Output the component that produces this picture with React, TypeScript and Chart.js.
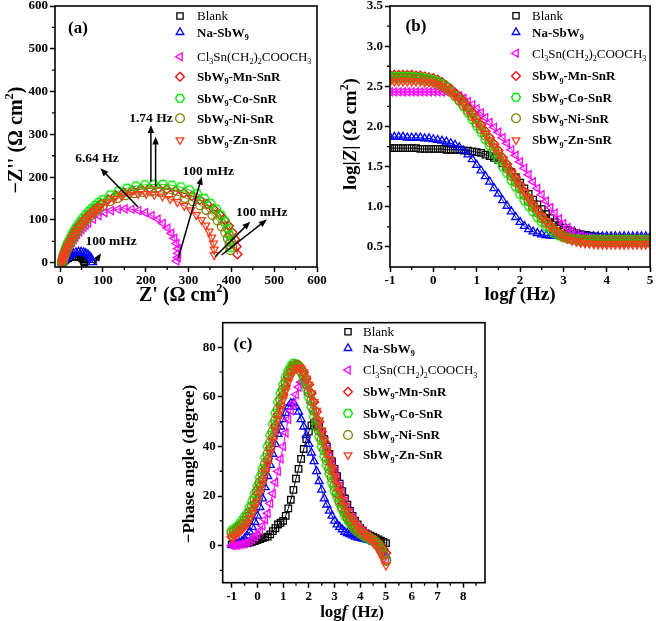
import React, { useEffect, useRef } from 'react';
import { Chart, registerables } from 'chart.js';
Chart.register(...registerables);

// ---------------- data ----------------
const SERIES = ['Blank', 'Na-SbW9', 'Cl3Sn(CH2)2COOCH3', 'SbW9-Mn-SnR', 'SbW9-Co-SnR', 'SbW9-Ni-SnR', 'SbW9-Zn-SnR'];
const COLORS = ['#000000', '#0000ff', '#ff00ff', '#ff0000', '#00e600', '#808000', '#f5401f'];
const POINT_STYLES = ['rect', 'triangle', 'triangle', 'rectRot', 'hex', 'circle', 'triangle'];
const ROTATIONS = [0, 0, -90, 0, 0, 0, 180];

// Panel (a) Nyquist: Z' and -Z''
const NY_BLANK_X = [57, 56, 54, 51, 47, 43, 38, 33, 28, 23, 19, 15, 12, 10, 8, 7, 6, 5];
const NY_BLANK_Y = [1, 4, 8, 11, 13, 14, 15, 15, 14, 13, 11, 9, 7, 5.5, 4, 2.5, 1.5, 0.5];
const NY_NA_X = [76, 75, 72, 69, 65, 60, 55, 49, 43, 37, 31, 26, 21, 17, 14, 11, 9, 7, 6, 5, 4];
const NY_NA_Y = [1, 6, 11, 15, 19, 22, 24, 25, 25, 24, 22, 19, 16, 13, 10, 8, 6, 4, 2.5, 1.5, 0.5];
const NY_CL_X = [272, 275, 276, 275, 272, 267, 260, 251, 240, 228, 214, 199, 183, 167, 151, 135, 119, 104, 90, 77, 66, 60, 55, 50, 45, 40, 36, 32, 28, 24, 21, 18, 15, 13, 11, 9, 8, 7, 6, 5];
const NY_CL_Y = [4, 12, 22, 33, 45, 57, 69, 81, 92, 102, 110, 117, 122, 125, 126, 125, 122, 117, 110, 102, 93, 88, 83, 78, 72, 66, 60, 54, 48, 42, 36, 31, 26, 21, 16, 12, 8, 5, 3, 1];
const NY_MN_X = [414, 412, 408, 402, 394, 384, 372, 358, 343, 326, 308, 289, 269, 249, 229, 209, 189, 169, 149, 130, 112, 95, 87, 79, 72, 65, 58, 52, 46, 41, 36, 32, 28, 24, 20, 17, 14, 12, 10, 8, 7, 6, 5, 5];
const NY_MN_Y = [20, 38, 55, 71, 86, 100, 113, 126, 137, 147, 156, 163, 168, 172, 174, 174, 172, 169, 164, 157, 148, 137, 131, 125, 118, 111, 104, 97, 90, 83, 76, 69, 62, 55, 48, 41, 34, 28, 22, 16, 11, 7, 3, 1];
const NY_CO_X = [398, 398, 396, 392, 385, 376, 365, 352, 337, 320, 302, 282, 261, 240, 219, 198, 177, 156, 136, 117, 99, 90, 82, 74, 67, 60, 53, 47, 41, 36, 31, 27, 23, 19, 16, 13, 11, 9, 8, 7, 6, 5, 5];
const NY_CO_Y = [36, 50, 65, 80, 96, 111, 125, 138, 150, 161, 170, 177, 181, 183, 183, 182, 179, 174, 167, 158, 147, 141, 134, 127, 120, 112, 104, 96, 88, 80, 72, 64, 56, 48, 41, 34, 27, 21, 16, 11, 7, 4, 1];
const NY_NI_X = [398, 396, 392, 386, 378, 368, 356, 342, 327, 310, 292, 273, 253, 233, 213, 193, 173, 153, 134, 116, 99, 91, 83, 76, 69, 62, 56, 50, 45, 40, 35, 31, 27, 23, 20, 17, 14, 12, 10, 8, 7, 6, 5];
const NY_NI_Y = [30, 43, 57, 71, 85, 99, 112, 124, 135, 144, 152, 158, 163, 166, 167, 166, 163, 158, 152, 144, 134, 128, 122, 116, 109, 102, 95, 88, 81, 74, 67, 60, 53, 46, 40, 34, 28, 22, 17, 12, 8, 4, 1];
const NY_ZN_X = [360, 360, 358, 354, 348, 340, 330, 318, 305, 290, 274, 257, 239, 220, 201, 182, 163, 144, 126, 109, 93, 85, 78, 71, 64, 58, 52, 46, 41, 36, 32, 28, 24, 21, 18, 15, 13, 11, 9, 8, 7, 6, 5];
const NY_ZN_Y = [18, 31, 45, 59, 73, 87, 100, 112, 123, 133, 142, 149, 155, 159, 161, 161, 159, 155, 149, 141, 131, 125, 119, 113, 106, 99, 92, 85, 78, 71, 64, 57, 50, 44, 38, 32, 26, 21, 16, 11, 7, 4, 1];

// Panels (b), (c): log f (10 points per decade)
const LOG_F = [
  -1, -0.9, -0.8, -0.7, -0.6, -0.5, -0.4, -0.3, -0.2, -0.1,
  0, 0.1, 0.2, 0.3, 0.4, 0.5, 0.6, 0.7, 0.8, 0.9,
  1, 1.1, 1.2, 1.3, 1.4, 1.5, 1.6, 1.7, 1.8, 1.9,
  2, 2.1, 2.2, 2.3, 2.4, 2.5, 2.6, 2.7, 2.8, 2.9,
  3, 3.1, 3.2, 3.3, 3.4, 3.5, 3.6, 3.7, 3.8, 3.9,
  4, 4.1, 4.2, 4.3, 4.4, 4.5, 4.6, 4.7, 4.8, 4.9,
  5,
];

const LOGZ_BLANK = [
  1.73, 1.73, 1.73, 1.73, 1.73, 1.73, 1.73, 1.72, 1.72, 1.72,
  1.72, 1.72, 1.72, 1.71, 1.71, 1.71, 1.71, 1.70, 1.70, 1.69,
  1.68, 1.67, 1.65, 1.63, 1.61, 1.58, 1.54, 1.49, 1.43, 1.37,
  1.30, 1.23, 1.16, 1.09, 1.03, 0.97, 0.91, 0.86, 0.81, 0.77,
  0.74, 0.71, 0.69, 0.67, 0.66, 0.65, 0.64, 0.63, 0.62, 0.62,
  0.61, 0.61, 0.61, 0.61, 0.61, 0.61, 0.61, 0.61, 0.61, 0.61,
  0.61,
];
const LOGZ_NA = [
  1.87, 1.87, 1.87, 1.87, 1.86, 1.86, 1.86, 1.86, 1.85, 1.85,
  1.84, 1.83, 1.82, 1.81, 1.79, 1.77, 1.74, 1.70, 1.65, 1.59,
  1.52, 1.45, 1.38, 1.31, 1.23, 1.16, 1.08, 1.01, 0.94, 0.87,
  0.81, 0.76, 0.72, 0.69, 0.67, 0.655, 0.645, 0.64, 0.635, 0.635,
  0.63, 0.63, 0.63, 0.63, 0.63, 0.63, 0.63, 0.63, 0.63, 0.63,
  0.63, 0.63, 0.63, 0.63, 0.63, 0.63, 0.63, 0.63, 0.63, 0.63,
  0.63,
];
const LOGZ_CL = [
  2.43, 2.43, 2.43, 2.43, 2.43, 2.43, 2.43, 2.43, 2.43, 2.43,
  2.43, 2.43, 2.43, 2.43, 2.42, 2.40, 2.38, 2.35, 2.31, 2.27,
  2.22, 2.17, 2.11, 2.05, 1.99, 1.93, 1.86, 1.79, 1.71, 1.64,
  1.56, 1.48, 1.40, 1.31, 1.23, 1.15, 1.07, 0.99, 0.92, 0.85,
  0.79, 0.74, 0.70, 0.67, 0.64, 0.62, 0.61, 0.605, 0.60, 0.60,
  0.60, 0.60, 0.60, 0.60, 0.60, 0.60, 0.60, 0.60, 0.60, 0.60,
  0.60,
];
const LOGZ_MN = [
  2.64, 2.64, 2.64, 2.64, 2.64, 2.64, 2.63, 2.63, 2.62, 2.61,
  2.60, 2.58, 2.55, 2.51, 2.47, 2.42, 2.37, 2.31, 2.24, 2.17,
  2.10, 2.02, 1.94, 1.86, 1.78, 1.70, 1.61, 1.53, 1.44, 1.36,
  1.27, 1.19, 1.11, 1.03, 0.96, 0.89, 0.83, 0.77, 0.72, 0.68,
  0.65, 0.62, 0.60, 0.59, 0.58, 0.575, 0.57, 0.565, 0.56, 0.56,
  0.56, 0.56, 0.56, 0.56, 0.56, 0.56, 0.56, 0.56, 0.56, 0.56,
  0.56,
];
const LOGZ_CO = [
  2.62, 2.62, 2.62, 2.62, 2.62, 2.62, 2.61, 2.61, 2.60, 2.59,
  2.58, 2.56, 2.53, 2.49, 2.44, 2.38, 2.32, 2.25, 2.17, 2.09,
  2.01, 1.93, 1.84, 1.76, 1.67, 1.59, 1.50, 1.42, 1.33, 1.25,
  1.16, 1.08, 1.01, 0.94, 0.87, 0.81, 0.76, 0.71, 0.67, 0.64,
  0.62, 0.61, 0.60, 0.595, 0.59, 0.59, 0.59, 0.59, 0.59, 0.59,
  0.59, 0.59, 0.59, 0.59, 0.59, 0.59, 0.59, 0.59, 0.59, 0.59,
  0.59,
];
const LOGZ_NI = [
  2.60, 2.60, 2.60, 2.60, 2.60, 2.60, 2.59, 2.59, 2.58, 2.57,
  2.56, 2.54, 2.51, 2.48, 2.44, 2.39, 2.33, 2.27, 2.20, 2.13,
  2.05, 1.97, 1.89, 1.81, 1.73, 1.65, 1.56, 1.48, 1.39, 1.31,
  1.23, 1.15, 1.07, 1.00, 0.93, 0.86, 0.80, 0.75, 0.70, 0.66,
  0.63, 0.61, 0.60, 0.595, 0.59, 0.585, 0.58, 0.58, 0.58, 0.58,
  0.58, 0.58, 0.58, 0.58, 0.58, 0.58, 0.58, 0.58, 0.58, 0.58,
  0.58,
];
const LOGZ_ZN = [
  2.56, 2.56, 2.56, 2.56, 2.56, 2.56, 2.56, 2.56, 2.55, 2.55,
  2.54, 2.52, 2.50, 2.47, 2.43, 2.38, 2.33, 2.27, 2.20, 2.13,
  2.06, 1.99, 1.91, 1.83, 1.75, 1.67, 1.59, 1.50, 1.42, 1.34,
  1.26, 1.18, 1.10, 1.02, 0.95, 0.88, 0.82, 0.76, 0.71, 0.67,
  0.63, 0.60, 0.58, 0.565, 0.55, 0.545, 0.54, 0.535, 0.53, 0.53,
  0.53, 0.53, 0.53, 0.53, 0.53, 0.53, 0.53, 0.53, 0.53, 0.53,
  0.53,
];

const PH_BLANK = [
  0.5, 0.5, 0.6, 0.7, 0.8, 0.9, 1.0, 1.2, 1.5, 1.8,
  2.2, 2.6, 3.0, 3.3, 3.6, 4.5, 5.8, 7, 8.5, 9.2,
  10, 12, 15, 18.5, 22.5, 27, 31, 35, 39, 43,
  46, 48.5, 49.5, 49, 48, 46, 43, 40, 37, 34,
  31, 28, 25, 22, 19, 16.5, 14, 12, 10, 8.5,
  7, 6, 5, 4.5, 4, 3.5, 3, 2.5, 2, 1.5,
  1,
];
const PH_NA = [
  0.3, 0.5, 0.8, 1.2, 1.8, 2.8, 4, 5.5, 7.5, 9.5,
  12, 15.5, 19, 23.5, 28, 32.5, 37, 41, 45, 48,
  51, 53.5, 56, 57.5, 57.5, 56, 54, 51, 48, 44.5,
  41, 37.5, 34, 30, 26, 22.5, 19, 16.5, 14, 12,
  10, 8.5, 7.5, 6.5, 5.5, 5, 4.5, 4, 3.5, 3.2,
  3, 2.7, 2.5, 2.2, 2, 1.5, 1, 0, -1, -2.5,
  -4,
];
const PH_CL = [
  0, 0.1, 0.2, 0.4, 0.6, 0.9, 1.2, 1.8, 2.5, 3.5,
  4.5, 6, 8, 10.5, 13, 17, 21, 25.5, 30, 35,
  40, 45.5, 51, 54.5, 57.5, 61, 64, 66, 66, 64,
  61, 57.5, 54, 51, 48, 45, 42, 39, 36, 33,
  30, 27, 24, 21, 18, 15.5, 13, 11, 9, 7.5,
  6.5, 5.5, 4.5, 3.7, 3, 2.3, 1.5, 0.5, -1.5, -3.5,
  -6,
];
const PH_MN = [
  3.6, 4.2, 5, 6, 7, 8, 9.5, 11.5, 14, 17,
  21, 24, 27, 31, 35, 39.5, 44, 48.5, 53, 57,
  61, 64.5, 68, 70.5, 72.5, 73, 73, 71.5, 70, 67.5,
  65, 61.5, 58, 54, 50, 46, 42, 38, 34, 30.5,
  27, 23.5, 20, 17, 14, 12, 10, 8.5, 7, 6,
  5, 4.5, 4, 3.5, 3, 2.5, 2, 1.2, 0, -1.5,
  -3,
];
const PH_CO = [
  6, 6.7, 7.5, 8.7, 10, 11.5, 13, 15.5, 18, 21,
  24, 27.5, 31, 35.5, 40, 44.5, 49, 53.5, 58, 61.5,
  65, 68, 70.5, 72.5, 73.5, 73, 72, 70, 67, 63.5,
  60, 56, 52, 48, 44, 40, 36, 32.5, 29, 25.5,
  22, 19.5, 17, 14.5, 12, 10.5, 9, 7.7, 6.5, 5.7,
  5, 4.2, 3.5, 3, 2.5, 1.8, 1, 0, -1.5, -3.5,
  -6,
];
const PH_NI = [
  5, 5.7, 6.5, 7.5, 8.5, 10, 11.5, 13.5, 16, 19,
  22, 25.5, 29, 33, 37, 41.5, 46, 50.5, 55, 59,
  63, 66, 69, 71, 72.5, 73, 72.5, 70.5, 68.5, 65.5,
  62, 58.5, 54.5, 50.5, 46.5, 42.5, 38.5, 34.5, 31, 27.5,
  24, 21, 18, 15.5, 13.5, 11.5, 10, 8.5, 7, 6,
  5, 4.5, 4, 3.5, 3, 2.3, 1.5, 0.3, -1.5, -3.5,
  -6,
];
const PH_ZN = [
  3, 3.7, 4.5, 5.5, 6.5, 7.7, 9, 11, 13, 15.5,
  18, 21.5, 25, 29, 33, 37.5, 42, 46.5, 51, 55,
  59, 62.5, 66, 68.5, 70.5, 71.5, 72, 71.5, 70, 67.5,
  65, 61.5, 58, 54.5, 50.5, 46.5, 42.5, 38.5, 35, 31.5,
  28, 24.5, 21.5, 18.5, 16, 14, 12, 10.5, 9, 7.7,
  6.5, 5.5, 4.5, 3.5, 2.5, 1.3, 0, -1.5, -3.5, -5.5,
  -8,
];

// Axis ticks
const A_X_TICKS = [0, 100, 200, 300, 400, 500, 600];
const A_Y_TICKS = [0, 100, 200, 300, 400, 500, 600];
const A_X_MINOR = [50, 150, 250, 350, 450, 550];
const A_Y_MINOR = [50, 150, 250, 350, 450, 550];
const B_X_TICKS = [-1, 0, 1, 2, 3, 4, 5];
const B_Y_TICKS = [0.5, 1.0, 1.5, 2.0, 2.5, 3.0, 3.5];
const B_X_MINOR = [-0.5, 0.5, 1.5, 2.5, 3.5, 4.5];
const B_Y_MINOR = [0.75, 1.25, 1.75, 2.25, 2.75, 3.25];
const C_X_TICKS = [-1, 0, 1, 2, 3, 4, 5, 6, 7, 8];
const C_Y_TICKS = [0, 20, 40, 60, 80];
const C_X_MINOR = [-0.5, 0.5, 1.5, 2.5, 3.5, 4.5, 5.5, 6.5, 7.5, 8.5];
const C_Y_MINOR = [-10, 10, 30, 50, 70];

// Annotations for panel (a) (data coordinates)
const A_NOTES = [
  { t: '6.64 Hz', x: 86, y: 247 },
  { t: '1.74 Hz', x: 212, y: 340 },
  { t: '100 mHz', x: 346, y: 215 },
  { t: '100 mHz', x: 471, y: 121 },
  { t: '100 mHz', x: 119, y: 53 },
];
const A_ARROWS = [
  [182, 130, 94, 221],
  [212, 189, 212, 322],
  [223, 178, 223, 295],
  [276, 11, 331, 201],
  [362, 14, 444, 96],
  [377, 18, 483, 101],
  [79, -3, 95.5, 22],
];

// ---------------- rendering helpers ----------------
const FONT = '"Liberation Serif", "Times New Roman", Times, serif';
type Seg = { t: string; s?: 'sub' | 'sup'; i?: boolean };

const LEGEND_LABELS: Seg[][] = [
  [{ t: 'Blank' }],
  [{ t: 'Na-SbW' }, { t: '9', s: 'sub' }],
  [{ t: 'Cl' }, { t: '3', s: 'sub' }, { t: 'Sn(CH' }, { t: '2', s: 'sub' }, { t: ')' }, { t: '2', s: 'sub' }, { t: 'COOCH' }, { t: '3', s: 'sub' }],
  [{ t: 'SbW' }, { t: '9', s: 'sub' }, { t: '-Mn-SnR' }],
  [{ t: 'SbW' }, { t: '9', s: 'sub' }, { t: '-Co-SnR' }],
  [{ t: 'SbW' }, { t: '9', s: 'sub' }, { t: '-Ni-SnR' }],
  [{ t: 'SbW' }, { t: '9', s: 'sub' }, { t: '-Zn-SnR' }],
];
const LEGEND_BOLD = [false, true, false, true, true, true, true];

function segFont(sg: Seg, size: number, bold: boolean) {
  const sz = sg.s ? size * 0.62 : size;
  return `${sg.i ? 'italic ' : ''}${bold ? 'bold ' : ''}${sz}px ${FONT}`;
}

function drawRich(ctx: CanvasRenderingContext2D, segs: Seg[], x: number, y: number, size: number, bold: boolean, align: 'left' | 'center', angle = 0) {
  ctx.save();
  ctx.translate(x, y);
  if (angle) ctx.rotate(angle);
  ctx.fillStyle = '#000';
  ctx.textBaseline = 'alphabetic';
  ctx.textAlign = 'left';
  let w = 0;
  for (const sg of segs) { ctx.font = segFont(sg, size, bold); w += ctx.measureText(sg.t).width; }
  let cx = align === 'center' ? -w / 2 : 0;
  const base = size * 0.34;
  for (const sg of segs) {
    ctx.font = segFont(sg, size, bold);
    const dy = sg.s === 'sub' ? size * 0.24 : sg.s === 'sup' ? -size * 0.42 : 0;
    ctx.fillText(sg.t, cx, base + dy);
    cx += ctx.measureText(sg.t).width;
  }
  ctx.restore();
}

function markerPath(ctx: CanvasRenderingContext2D, style: string, r: number) {
  ctx.beginPath();
  if (style === 'rect') {
    const h = r * Math.SQRT1_2;
    ctx.rect(-h, -h, 2 * h, 2 * h);
  } else if (style === 'rectRot') {
    ctx.moveTo(0, -r); ctx.lineTo(r, 0); ctx.lineTo(0, r); ctx.lineTo(-r, 0); ctx.closePath();
  } else if (style === 'triangle') {
    for (let k = 0; k < 3; k++) {
      const a = (k * 2 * Math.PI) / 3;
      const px = Math.sin(a) * r; const py = -Math.cos(a) * r;
      if (k === 0) ctx.moveTo(px, py); else ctx.lineTo(px, py);
    }
    ctx.closePath();
  } else if (style === 'hex') {
    for (let k = 0; k < 6; k++) {
      const a = (k * Math.PI) / 3;
      const px = Math.cos(a) * r; const py = Math.sin(a) * r;
      if (k === 0) ctx.moveTo(px, py); else ctx.lineTo(px, py);
    }
    ctx.closePath();
  } else {
    ctx.arc(0, 0, r, 0, Math.PI * 2);
  }
}

function drawMarker(ctx: CanvasRenderingContext2D, i: number, x: number, y: number, r: number) {
  ctx.save();
  ctx.translate(x, y);
  ctx.rotate((ROTATIONS[i] * Math.PI) / 180);
  ctx.strokeStyle = COLORS[i];
  ctx.lineWidth = 1.3;
  markerPath(ctx, POINT_STYLES[i], r);
  ctx.stroke();
  ctx.restore();
}

function hexImage(color: string, r: number) {
  const c = document.createElement('canvas');
  const s = Math.ceil(r * 2 + 3);
  c.width = s; c.height = s;
  const ctx = c.getContext('2d') as CanvasRenderingContext2D;
  ctx.translate(s / 2, s / 2);
  ctx.strokeStyle = color;
  ctx.lineWidth = 1.3;
  markerPath(ctx, 'hex', r);
  ctx.stroke();
  return c;
}

function drawArrow(ctx: CanvasRenderingContext2D, x1: number, y1: number, x2: number, y2: number) {
  const ang = Math.atan2(y2 - y1, x2 - x1);
  const head = 8, hw = 3.2;
  ctx.beginPath();
  ctx.moveTo(x1, y1);
  ctx.lineTo(x2 - Math.cos(ang) * head * 0.7, y2 - Math.sin(ang) * head * 0.7);
  ctx.stroke();
  ctx.beginPath();
  ctx.moveTo(x2, y2);
  ctx.lineTo(x2 - head * Math.cos(ang) + hw * Math.sin(ang), y2 - head * Math.sin(ang) - hw * Math.cos(ang));
  ctx.lineTo(x2 - head * Math.cos(ang) - hw * Math.sin(ang), y2 - head * Math.sin(ang) + hw * Math.cos(ang));
  ctx.closePath();
  ctx.fill();
}

interface Deco {
  xMinor: number[]; yMinor: number[];
  legend: { mx: number; tx: number; rows: number[]; size: number };
  panel: { t: string; x: number; y: number; size: number };
  xTitle: { segs: Seg[]; x: number; y: number; size: number };
  yTitle: { segs: Seg[]; x: number; y: number; size: number };
  notes?: { t: string; x: number; y: number }[];
  arrows?: number[][];
}

function decoPlugin(d: Deco) {
  return {
    id: 'deco',
    afterDraw(chart: any) {
      const ctx: CanvasRenderingContext2D = chart.ctx;
      const a = chart.chartArea;
      const xs = chart.scales.x;
      const ys = chart.scales.y;
      ctx.save();
      ctx.strokeStyle = '#000';
      ctx.fillStyle = '#000';
      ctx.lineWidth = 1.6;
      ctx.strokeRect(a.left, a.top, a.right - a.left, a.bottom - a.top);
      ctx.lineWidth = 1.3;
      ctx.beginPath();
      for (const v of d.xMinor) { const px = xs.getPixelForValue(v); ctx.moveTo(px, a.bottom); ctx.lineTo(px, a.bottom + 3); }
      for (const v of d.yMinor) { const py = ys.getPixelForValue(v); ctx.moveTo(a.left, py); ctx.lineTo(a.left - 3, py); }
      ctx.stroke();
      d.legend.rows.forEach((ry, i) => {
        drawMarker(ctx, i, d.legend.mx, ry, 4.4);
        drawRich(ctx, LEGEND_LABELS[i], d.legend.tx, ry, d.legend.size, LEGEND_BOLD[i], 'left');
      });
      drawRich(ctx, [{ t: d.panel.t }], d.panel.x, d.panel.y, d.panel.size, true, 'center');
      drawRich(ctx, d.xTitle.segs, d.xTitle.x, d.xTitle.y, d.xTitle.size, true, 'center');
      drawRich(ctx, d.yTitle.segs, d.yTitle.x, d.yTitle.y, d.yTitle.size, true, 'center', -Math.PI / 2);
      if (d.arrows) {
        ctx.lineWidth = 1.5;
        for (const ar of d.arrows) {
          drawArrow(ctx, xs.getPixelForValue(ar[0]), ys.getPixelForValue(ar[1]), xs.getPixelForValue(ar[2]), ys.getPixelForValue(ar[3]));
        }
      }
      if (d.notes) {
        for (const n of d.notes) {
          drawRich(ctx, [{ t: n.t }], xs.getPixelForValue(n.x), ys.getPixelForValue(n.y), 13.5, true, 'center');
        }
      }
      ctx.restore();
    },
  };
}

function axis(min: number, max: number, ticks: number[], isX: boolean, size: number, fmt: (v: number) => string) {
  return {
    type: 'linear',
    bounds: 'data',
    min, max,
    afterBuildTicks: (s: any) => { s.ticks = ticks.map((v) => ({ value: v })); },
    afterFit: (s: any) => {
      if (isX) s.height = size; else s.width = size;
      s.paddingTop = 0; s.paddingBottom = 0; s.paddingLeft = 0; s.paddingRight = 0;
    },
    ticks: {
      color: '#000',
      font: { family: FONT, size: 13, weight: 'bold' },
      padding: isX ? 1 : 2,
      autoSkip: false,
      maxRotation: 0,
      callback: (v: any) => fmt(Number(v)),
    },
    grid: { display: true, drawOnChartArea: false, drawTicks: true, tickLength: 5, tickWidth: 1.5, tickColor: '#000', color: '#000' },
    border: { display: false },
  };
}

function datasetStyle(i: number, hex: HTMLCanvasElement) {
  return {
    label: SERIES[i],
    showLine: true,
    borderColor: COLORS[i],
    borderWidth: 1,
    backgroundColor: 'rgba(0,0,0,0)',
    pointStyle: POINT_STYLES[i] === 'hex' ? hex : POINT_STYLES[i],
    pointRotation: ROTATIONS[i],
    pointRadius: 4.6,
    pointBorderWidth: 1.3,
    pointBorderColor: COLORS[i],
    pointBackgroundColor: 'rgba(0,0,0,0)',
    tension: 0,
    order: SERIES.length - i,
  };
}

function baseOptions(padding: any, xAxis: any, yAxis: any) {
  return {
    responsive: false,
    animation: false,
    events: [],
    devicePixelRatio: 1,
    layout: { padding },
    plugins: { legend: { display: false }, tooltip: { enabled: false } },
    scales: { x: xAxis, y: yAxis },
  };
}

const LOGF_TITLE: Seg[] = [{ t: 'log' }, { t: 'f', i: true }, { t: ' (Hz)' }];

export default function App() {
  const refA = useRef<HTMLCanvasElement>(null);
  const refB = useRef<HTMLCanvasElement>(null);
  const refC = useRef<HTMLCanvasElement>(null);

  useEffect(() => {
    const hex = hexImage(COLORS[4], 4.6);
    const NY_X = [NY_BLANK_X, NY_NA_X, NY_CL_X, NY_MN_X, NY_CO_X, NY_NI_X, NY_ZN_X];
    const NY_Y = [NY_BLANK_Y, NY_NA_Y, NY_CL_Y, NY_MN_Y, NY_CO_Y, NY_NI_Y, NY_ZN_Y];
    const LOGZ = [LOGZ_BLANK, LOGZ_NA, LOGZ_CL, LOGZ_MN, LOGZ_CO, LOGZ_NI, LOGZ_ZN];
    const PH = [PH_BLANK, PH_NA, PH_CL, PH_MN, PH_CO, PH_NI, PH_ZN];
    const intFmt = (v: number) => String(Math.round(v));

    const chartA = new Chart(refA.current as HTMLCanvasElement, {
      type: 'scatter',
      data: {
        datasets: SERIES.map((_, i) => ({
          ...datasetStyle(i, hex),
          data: NY_X[i].map((x, k) => ({ x, y: NY_Y[i][k] })),
        })),
      },
      options: baseOptions(
        { top: 6, right: 18, left: 0, bottom: 0 },
        axis(-12, 600, A_X_TICKS, true, 43, intFmt),
        axis(-10, 600, A_Y_TICKS, false, 55, intFmt),
      ),
      plugins: [decoPlugin({
        xMinor: A_X_MINOR, yMinor: A_Y_MINOR,
        legend: { mx: 180, tx: 197, rows: [16, 32.3, 56.7, 76.7, 98.3, 118.3, 140], size: 13 },
        panel: { t: '(a)', x: 78, y: 27, size: 17 },
        xTitle: { segs: [{ t: "Z' (\u03A9 cm" }, { t: '2', s: 'sup' }, { t: ')' }], x: 184, y: 294, size: 20 },
        yTitle: { segs: [{ t: "\u2212Z'' (\u03A9 cm" }, { t: '2', s: 'sup' }, { t: ')' }], x: 15, y: 140, size: 20 },
        notes: A_NOTES,
        arrows: A_ARROWS,
      })],
    } as any);

    const chartB = new Chart(refB.current as HTMLCanvasElement, {
      type: 'scatter',
      data: {
        datasets: SERIES.map((_, i) => ({
          ...datasetStyle(i, hex),
          data: LOG_F.map((x, k) => ({ x, y: LOGZ[i][k] })),
        })),
      },
      options: baseOptions(
        { top: 6, right: 4.3, left: 0, bottom: 0 },
        axis(-1, 5, B_X_TICKS, true, 43, intFmt),
        axis(0.25, 3.5, B_Y_TICKS, false, 55, (v) => v.toFixed(1)),
      ),
      plugins: [decoPlugin({
        xMinor: B_X_MINOR, yMinor: B_Y_MINOR,
        legend: { mx: 181, tx: 197, rows: [15.7, 32.3, 53.3, 76, 97.3, 118.3, 140], size: 13 },
        panel: { t: '(b)', x: 81, y: 25, size: 17 },
        xTitle: { segs: LOGF_TITLE, x: 185, y: 294, size: 19 },
        yTitle: { segs: [{ t: 'log|' }, { t: 'Z', i: true }, { t: '| (\u03A9 cm' }, { t: '2', s: 'sup' }, { t: ')' }], x: 15, y: 134, size: 19 },
      })],
    } as any);

    const chartC = new Chart(refC.current as HTMLCanvasElement, {
      type: 'scatter',
      data: {
        datasets: SERIES.map((_, i) => ({
          ...datasetStyle(i, hex),
          data: LOG_F.map((x, k) => ({ x, y: PH[i][k] })),
        })),
      },
      options: baseOptions(
        { top: 22.7, right: 21, left: 0, bottom: 0 },
        axis(-1.35, 8.85, C_X_TICKS, true, 38.3, intFmt),
        axis(-15, 90, C_Y_TICKS, false, 72.7, intFmt),
      ),
      plugins: [decoPlugin({
        xMinor: C_X_MINOR, yMinor: C_Y_MINOR,
        legend: { mx: 198, tx: 213, rows: [31.7, 48.3, 70, 91.7, 113.3, 135, 155], size: 13 },
        panel: { t: '(c)', x: 93, y: 43, size: 17 },
        xTitle: { segs: LOGF_TITLE, x: 202, y: 311, size: 17 },
        yTitle: { segs: [{ t: '\u2212Phase angle (degree)' }], x: 38, y: 164, size: 17 },
      })],
    } as any);

    return () => { chartA.destroy(); chartB.destroy(); chartC.destroy(); };
  }, []);

  return (
    <div style={{ position: 'absolute', left: 0, top: 0, width: 656, height: 621, background: '#fff', overflow: 'hidden' }}>
      <canvas ref={refA} width={335} height={310} style={{ position: 'absolute', left: 0, top: 0 }} />
      <canvas ref={refB} width={321} height={310} style={{ position: 'absolute', left: 335, top: 0 }} />
      <canvas ref={refC} width={356} height={321} style={{ position: 'absolute', left: 150, top: 300 }} />
    </div>
  );
}
